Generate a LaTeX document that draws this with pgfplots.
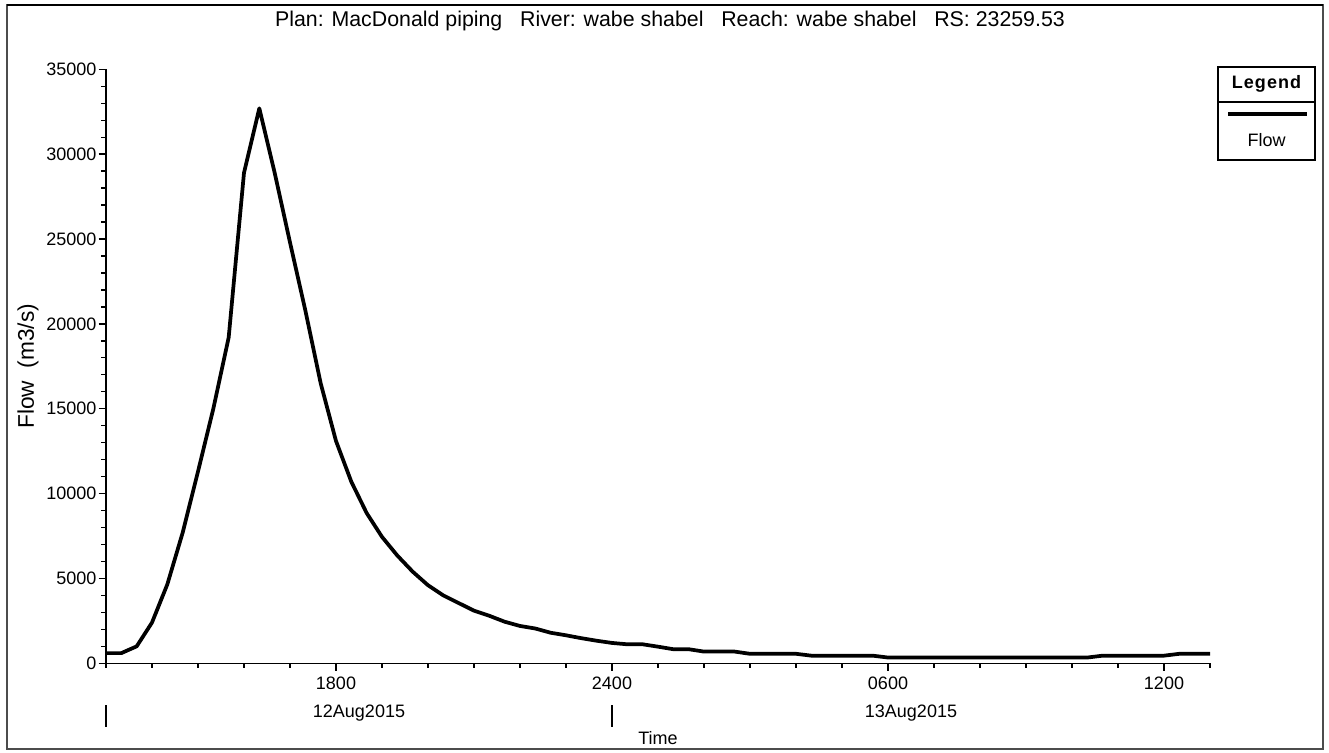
\documentclass[border=0pt]{standalone}
\usepackage{pgfplots}
\pgfplotsset{compat=1.18}
\usepackage{fontspec}
\setmainfont{Liberation Sans}
\newfontfamily\legfont[LetterSpace=6]{Liberation Sans}
\begin{document}
\begin{tikzpicture}[x=0.75pt,y=-0.75pt,font=\fontsize{13.5}{15}\selectfont]
\useasboundingbox (0,0) rectangle (1329,753);
\draw[line width=0.8pt,black!70] (7,5) rectangle (1323,749);
\draw[line width=2.2pt] (7,5) -- (1323,5);
\begin{axis}[
  at={(79.5pt,-497.475pt)}, anchor=south west,
  scale only axis, width=828pt, height=445.5pt,
  xmin=0, xmax=24, ymin=0, ymax=35000,
  axis x line*=bottom, axis y line*=left,
  axis line style={-, line width=1.2pt},
  xtick={5,11,17,23}, xticklabels={1800,2400,0600,1200},
  minor xtick={0,1,...,24},
  ytick={0,5000,...,35000},
  minor ytick={0,1000,...,35000},
  tick align=outside,
  major tick length=5.5pt, minor tick length=3.5pt,
  every tick/.style={black, line width=1pt},
  scaled y ticks=false,
  /pgf/number format/assume math mode=true,
  yticklabel style={/pgf/number format/1000 sep={}, inner xsep=1.5pt},
  tick label style={font=\fontsize{13.5}{15}\selectfont},
  xticklabel style={yshift=-1pt},
  ylabel={Flow\ \ (m3/s)},
  ylabel style={at={(axis description cs:-0.0707,0.5)}, anchor=center, rotate=0, font=\fontsize{17}{19}\selectfont},
  xlabel={Time},
  xlabel style={at={(axis description cs:0.5,-0.126)}, anchor=center, font=\fontsize{13.5}{15}\selectfont},
  clip=false,
]
\addplot[black, line width=2.8pt, line join=round] coordinates {
(0.000,600) (0.333,600) (0.667,1000) (1.000,2400) (1.333,4650) (1.667,7700)
(2.000,11300) (2.333,15000) (2.667,19200) (3.000,28900) (3.333,32700) (3.667,28900)
(4.000,24800) (4.333,20800) (4.667,16500) (5.000,13100) (5.333,10700) (5.667,8850)
(6.000,7450) (6.333,6350) (6.667,5400) (7.000,4600) (7.333,4000) (7.667,3550)
(8.000,3100) (8.333,2800) (8.667,2450) (9.000,2200) (9.333,2050) (9.667,1800)
(10.000,1650) (10.333,1480) (10.667,1330) (11.000,1200) (11.333,1120) (11.667,1120)
(12.000,980) (12.333,830) (12.667,830) (13.000,690) (13.333,690) (13.667,690)
(14.000,560) (14.333,560) (14.667,560) (15.000,560) (15.333,450) (15.667,450)
(16.000,450) (16.333,450) (16.667,450) (17.000,340) (17.333,340) (17.667,340)
(18.000,340) (18.333,340) (18.667,340) (19.000,340) (19.333,340) (19.667,340)
(20.000,340) (20.333,340) (20.667,340) (21.000,340) (21.333,340) (21.667,450)
(22.000,450) (22.333,450) (22.667,450) (23.000,450) (23.333,560) (23.667,560)
(24.000,560)
};
\end{axis}
% title
\node[font=\fontsize{16}{18}\selectfont] at (670,21) {Plan: MacDonald piping\ \ \ River: wabe shabel\ \ \ Reach: wabe shabel\ \ \ RS: 23259.53};
% date row
\draw[line width=1pt] (106,705) -- (106,727);
\draw[line width=1pt] (612,705) -- (612,727);
\node at (359,713) {12Aug2015};
\node at (911,713) {13Aug2015};
% legend
\draw[line width=1pt] (1218,67) rectangle (1315,160);
\draw[line width=1pt] (1218,102) -- (1315,102);
\node[font=\fontsize{13.5}{15}\legfont\bfseries] at (1266.5,84) {Legend};
\draw[line width=2.8pt] (1228,114) -- (1307,114);
\node at (1266.5,140) {Flow};
\end{tikzpicture}
\end{document}
